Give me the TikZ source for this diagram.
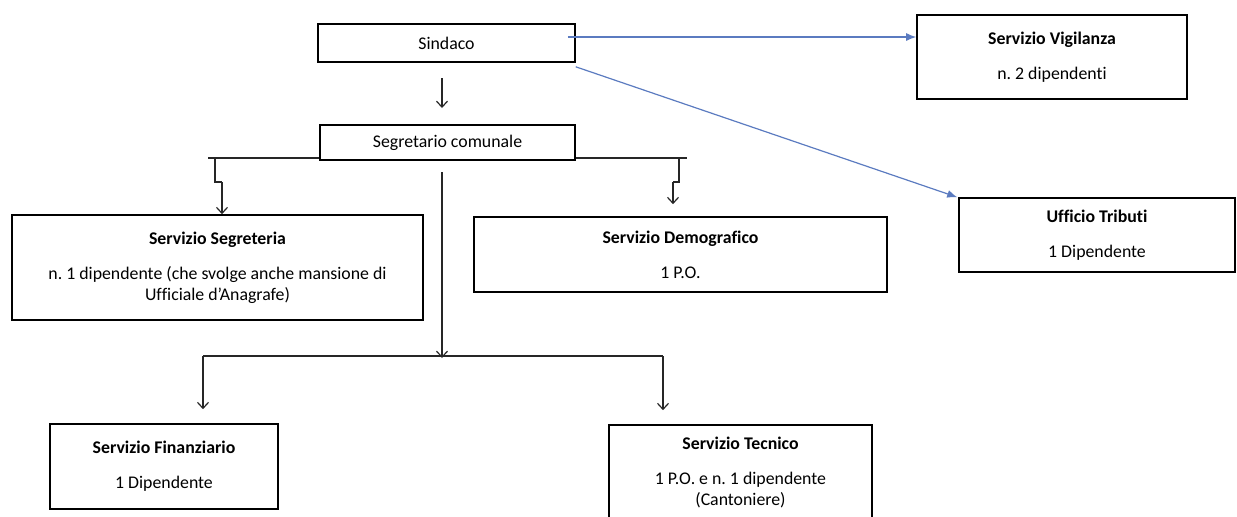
\documentclass[tikz,border=0pt]{standalone}
\usepackage{fontspec}
\setmainfont{Carlito}[Ligatures=NoCommon]
\usetikzlibrary{arrows.meta}
\frenchspacing

\definecolor{bluearrow}{HTML}{5B7BC0}
\newcommand*\boxtitle[1]{\textbf{#1}\\[7pt]}

\tikzset{
  box/.style={draw, line width=0.8pt, fill=white, align=center, inner sep=1pt,
    font=\fontsize{8.9}{10.5}\selectfont},
  arr/.style={-{Straight Barb[length=3pt,width=5.5pt]}, line width=0.6pt, black!85},
  blu/.style={-{Latex[length=5pt,width=4pt]}, line width=0.6pt, bluearrow},
  wire/.style={line width=0.6pt, black!85},
}

\begin{document}
\begin{tikzpicture}[x=0.5pt,y=-0.5pt]
\useasboundingbox (0,0) rectangle (1237,516);

\node[box, minimum width=128.5pt, minimum height=19pt] (sindaco) at (446.5,43) {Sindaco};
\node[box, minimum width=127.5pt, minimum height=17.5pt] (segretario) at (447.5,142.5) {Segretario comunale};
\node[box, minimum width=135pt, minimum height=42pt] (vigilanza) at (1052,57)
  {\boxtitle{Servizio Vigilanza}n. 2 dipendenti};
\node[box, minimum width=138pt, minimum height=37pt] (tributi) at (1097,235)
  {\boxtitle{Ufficio Tributi}1 Dipendente};
\node[box, minimum width=205.5pt, minimum height=52.5pt] (segreteria) at (217.5,267.5)
  {\boxtitle{Servizio Segreteria}n. 1 dipendente (che svolge anche mansione di\\Ufficiale d'Anagrafe)};
\node[box, minimum width=206.5pt, minimum height=37.5pt] (demografico) at (680.5,254.5)
  {\boxtitle{Servizio Demografico}1 P.O.};
\node[box, minimum width=114pt, minimum height=42.5pt] (finanziario) at (164,466.5)
  {\boxtitle{Servizio Finanziario}1 Dipendente};
\node[box, minimum width=131.5pt, minimum height=47.5pt] (tecnico) at (740.5,472.5)
  {\boxtitle{Servizio Tecnico}1 P.O. e n. 1 dipendente\\(Cantoniere)};

% Sindaco -> Segretario
\coordinate (s1) at (442,78);
\coordinate (s2) at (442,108);
\draw[arr] (s1) -- (s2);

% Sindaco -> uffici esterni
\draw[blu] ([xshift=-4pt,yshift=3pt]sindaco.east) -- ([yshift=3pt]sindaco.east -| vigilanza.west);
\draw[blu] ([yshift=-2pt]sindaco.south east) -- ([xshift=-0.5pt]tributi.north west);

% linea sotto il segretario
\coordinate (busL) at (208,158);
\coordinate (busR) at (687,158);
\draw[wire] (busL) -- (segretario.west |- busL);
\draw[wire] (segretario.east |- busR) -- (busR);

\draw[wire] (215,158) -- (215,182) -- (222,182);
\draw[arr] (222,182) -- (segreteria.north -| 222,0);
\draw[wire] (679,158) -- (679,182) -- (673,182);
\draw[arr] (673,182) -- ([yshift=6pt]demografico.north -| 673,0);

% ramo centrale
\coordinate (c1) at (442,172);
\coordinate (c2) at (442,358);
\draw[arr] (c1) -- (c2);
\coordinate (l1) at (203,356);
\coordinate (r1) at (663,356);
\draw[wire] (l1) -- (r1);
\draw[arr] (l1) -- ([yshift=7pt]finanziario.north -| l1);
\draw[arr] (r1) -- ([yshift=7pt]tecnico.north -| r1);

\end{tikzpicture}
\end{document}
